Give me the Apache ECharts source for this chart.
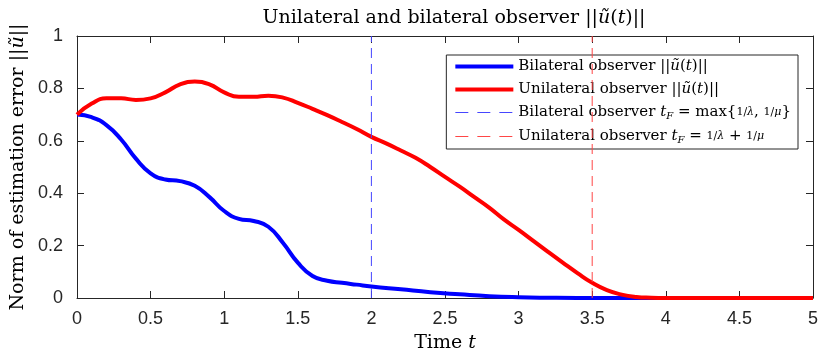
<!DOCTYPE html>
<html>
<head>
<meta charset="utf-8">
<script src="https://cdn.jsdelivr.net/npm/echarts@6/dist/echarts.min.js"></script>
<style>html,body{margin:0;padding:0;background:#fff}#c{width:821px;height:358px}</style>
</head>
<body>
<div id="c"></div>
<script>
// ---- data ----
const tBi = [0,0.1,0.2,0.3,0.4,0.5,0.6,0.7,0.8,0.9,1.0,1.1,1.2,1.3,1.4,1.5,1.6,1.7,1.8,1.9,2.0,2.2,2.4,2.6,2.8,3.0,3.2,3.4,3.6,4.0,4.5,5.0];
const bilateral = [0.700,0.690,0.660,0.605,0.532,0.476,0.452,0.446,0.428,0.385,0.332,0.302,0.294,0.272,0.210,0.135,0.084,0.066,0.058,0.051,0.044,0.033,0.022,0.014,0.007,0.003,0.001,0,0,0,0,0];
const tUni = [0,0.1,0.2,0.3,0.4,0.5,0.6,0.7,0.8,0.9,1.0,1.1,1.2,1.3,1.4,1.5,1.6,1.7,1.8,1.9,2.0,2.1,2.2,2.3,2.4,2.5,2.6,2.7,2.8,2.9,3.0,3.1,3.2,3.3,3.4,3.5,3.6,3.7,3.8,3.9,4.0,4.5,5.0];
const unilateral = [0.700,0.742,0.762,0.762,0.756,0.762,0.785,0.815,0.826,0.815,0.785,0.768,0.768,0.772,0.765,0.745,0.722,0.698,0.672,0.645,0.615,0.590,0.563,0.535,0.500,0.462,0.425,0.385,0.345,0.300,0.260,0.218,0.176,0.135,0.095,0.058,0.030,0.013,0.004,0.001,0,0,0];
const tfBilateral = 2;
const tfUnilateral = 3.5;

const pairs = (xs, ys) => xs.map((x, i) => [x, ys[i]]);
const serif = 'DejaVu Serif';
const sans = 'Liberation Sans';
const ink = '#262626';
const blue = '#0000ff';
const red = '#ff0000';
const blueDash = '#4646ff';
const redDash = '#ff4646';

const legSize = 15;
const richBase = {
  n: {fontFamily: serif, fontSize: legSize, color: '#000'},
  i: {fontFamily: serif, fontSize: legSize, fontStyle: 'italic', color: '#000'},
  s: {fontFamily: serif, fontSize: 10, fontStyle: 'italic', color: '#000', padding: [7, 0, 0, 0]},
  f: {fontFamily: serif, fontSize: 11, color: '#000'},
  fi: {fontFamily: serif, fontSize: 11, fontStyle: 'italic', color: '#000'}
};
const legendText = {
  bi: '{n|Bilateral observer ||}{i|ũ}{n|(}{i|t}{n|)||}',
  uni: '{n|Unilateral observer ||}{i|ũ}{n|(}{i|t}{n|)||}',
  biTF: '{n|Bilateral observer }{i|t}{s|F}{n| = max{}{f|1/}{fi|λ}{n|, }{f|1/}{fi|μ}}',
  uniTF: '{n|Unilateral observer }{i|t}{s|F}{n| = }{f|1/}{fi|λ}{n| + }{f|1/}{fi|μ}'
};
const bigRich = {
  n: {fontFamily: serif, fontSize: 19, fontWeight: 'normal', color: '#000'},
  i: {fontFamily: serif, fontSize: 19, fontWeight: 'normal', fontStyle: 'italic', color: '#000'}
};

const chart = echarts.init(document.getElementById('c'), null, {renderer: 'canvas'});
const axisCommon = {
  min: 0,
  axisLine: {show: true, onZero: false, lineStyle: {color: ink, width: 1}},
  axisTick: {show: true, inside: true, length: 7, lineStyle: {color: ink}},
  splitLine: {show: false}
};
chart.setOption({
  animation: false,
  backgroundColor: '#fff',
  title: {
    text: '{n|Unilateral and bilateral observer ||}{i|ũ}{n|(}{i|t}{n|)||}',
    left: 449, textAlign: 'center', top: 4,
    textStyle: {fontWeight: 'normal', rich: bigRich}
  },
  grid: {left: 77, right: 8, top: 36, bottom: 60},
  legend: {
    orient: 'vertical', right: 23, top: 55,
    itemWidth: 58, itemHeight: 14, itemGap: 8,
    padding: [4, 7, 4, 7],
    borderColor: ink, borderWidth: 1, backgroundColor: '#fff',
    itemStyle: {opacity: 0},
    data: [
      {name: 'bi', lineStyle: {width: 4, color: blue, type: 'solid'}},
      {name: 'uni', lineStyle: {width: 4, color: red, type: 'solid'}},
      {name: 'biTF', lineStyle: {width: 1, color: blueDash, type: [13, 9]}},
      {name: 'uniTF', lineStyle: {width: 1, color: redDash, type: [13, 9]}}
    ],
    formatter: n => legendText[n],
    textStyle: {fontFamily: serif, fontSize: legSize, color: '#000', rich: richBase}
  },
  xAxis: [
    Object.assign({}, axisCommon, {
      type: 'value', max: 5, interval: 0.5, position: 'bottom',
      name: '{n|Time }{i|t}', nameLocation: 'middle', nameGap: 36,
      nameTextStyle: {rich: bigRich},
      axisLabel: {fontFamily: sans, fontSize: 18, color: ink, margin: 12,
        formatter: v => String(v)}
    }),
    Object.assign({}, axisCommon, {
      type: 'value', max: 5, interval: 0.5, position: 'top', axisLabel: {show: false}
    })
  ],
  yAxis: [
    Object.assign({}, axisCommon, {
      type: 'value', max: 1, interval: 0.2, position: 'left',
      name: '{n|Norm of estimation error ||}{i|ũ}{n|||}', nameLocation: 'middle', nameGap: 48, nameRotate: 90,
      nameTextStyle: {rich: bigRich},
      axisLabel: {fontFamily: sans, fontSize: 18, color: ink, margin: 14,
        formatter: v => String(+v.toFixed(1))}
    }),
    Object.assign({}, axisCommon, {
      type: 'value', max: 1, interval: 0.2, position: 'right', axisLabel: {show: false}
    })
  ],
  series: [
    {name: 'bi', type: 'line', data: pairs(tBi, bilateral), smooth: 0.5, symbol: 'none',
     lineStyle: {color: blue, width: 4}, itemStyle: {color: blue}, z: 2},
    {name: 'uni', type: 'line', data: pairs(tUni, unilateral), smooth: 0.5, symbol: 'none',
     lineStyle: {color: red, width: 4}, itemStyle: {color: red}, z: 3},
    {name: 'biTF', type: 'line', data: [[tfBilateral, 0], [tfBilateral, 1]], symbol: 'none',
     lineStyle: {color: blueDash, width: 1, type: [10, 6]}, itemStyle: {color: blueDash}, z: 4},
    {name: 'uniTF', type: 'line', data: [[tfUnilateral, 0], [tfUnilateral, 1]], symbol: 'none',
     lineStyle: {color: redDash, width: 1, type: [10, 6]}, itemStyle: {color: redDash}, z: 4}
  ]
});
</script>
</body>
</html>
